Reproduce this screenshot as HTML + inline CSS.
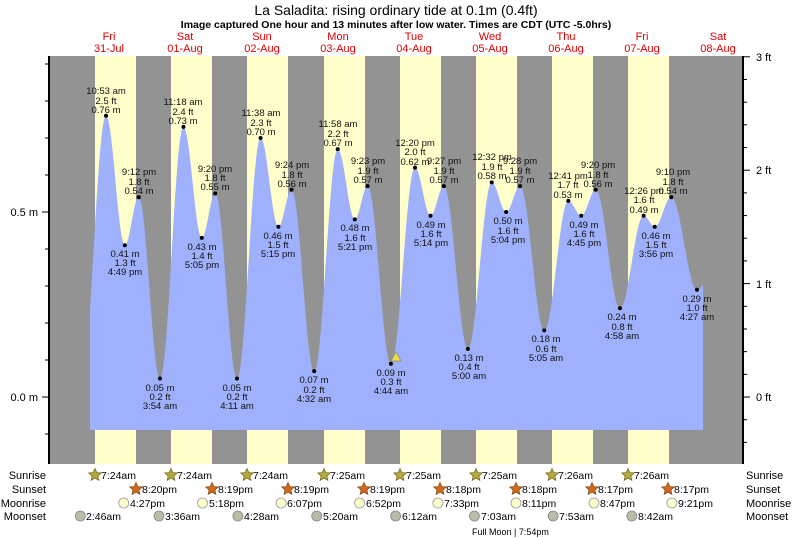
<!DOCTYPE html>
<html><head><meta charset="utf-8"><style>
body{margin:0;background:#fff;}
svg{display:block;font-family:"Liberation Sans",sans-serif;}
</style></head><body>
<svg id="s" width="793" height="538" viewBox="0 0 793 538" xmlns="http://www.w3.org/2000/svg">
<rect x="49" y="56" width="694" height="408" fill="#939393"/>
<g fill="#ffffcc">
<rect x="95" y="56" width="41" height="408"/><rect x="171" y="56" width="41" height="408"/>
<rect x="247" y="56" width="41" height="408"/><rect x="324" y="56" width="41" height="408"/>
<rect x="400" y="56" width="41" height="408"/><rect x="476" y="56" width="41" height="408"/>
<rect x="552" y="56" width="41" height="408"/><rect x="628" y="56" width="41" height="408"/>
</g>
<path id="tide" fill="#9fb0fc" d=""/>
<g id="dots" fill="#000"></g>
<polygon points="396,352 391,361 401,361" fill="#eedd44" stroke="#886" stroke-width="0.7"/>
<line x1="49" y1="56" x2="49" y2="464" stroke="#000" stroke-width="2"/>
<line x1="743" y1="56" x2="743" y2="464" stroke="#000" stroke-width="2"/>
<g id="ticks" stroke="#000" stroke-width="1"></g>
<g font-size="11" fill="#000">
<text x="38" y="216" text-anchor="end">0.5 m</text>
<text x="38" y="401" text-anchor="end">0.0 m</text>
<text x="756" y="61">3 ft</text><text x="756" y="174">2 ft</text>
<text x="756" y="288">1 ft</text><text x="756" y="401">0 ft</text>
</g>
<text x="396" y="15" font-size="14" text-anchor="middle">La Saladita: rising  ordinary tide at 0.1m (0.4ft)</text>
<text x="396" y="28" font-size="10.5" font-weight="bold" text-anchor="middle">Image captured One hour and 13 minutes after low water. Times are CDT (UTC -5.0hrs)</text>
<g font-size="11" fill="#e00000" text-anchor="middle">
<text x="109" y="40">Fri</text><text x="109" y="52">31-Jul</text>
<text x="185" y="40">Sat</text><text x="185" y="52">01-Aug</text>
<text x="262" y="40">Sun</text><text x="262" y="52">02-Aug</text>
<text x="338" y="40">Mon</text><text x="338" y="52">03-Aug</text>
<text x="414" y="40">Tue</text><text x="414" y="52">04-Aug</text>
<text x="490" y="40">Wed</text><text x="490" y="52">05-Aug</text>
<text x="566" y="40">Thu</text><text x="566" y="52">06-Aug</text>
<text x="642" y="40">Fri</text><text x="642" y="52">07-Aug</text>
<text x="718" y="40">Sat</text><text x="718" y="52">08-Aug</text>
</g>
<g font-size="9.5" fill="#111" text-anchor="middle">
<text x="106" y="94">10:53 am</text><text x="106" y="104">2.5 ft</text><text x="106" y="113">0.76 m</text>
<text x="139" y="175">9:12 pm</text><text x="139" y="185">1.8 ft</text><text x="139" y="194">0.54 m</text>
<text x="183" y="105">11:18 am</text><text x="183" y="115">2.4 ft</text><text x="183" y="124">0.73 m</text>
<text x="215" y="172">9:20 pm</text><text x="215" y="181">1.8 ft</text><text x="215" y="190">0.55 m</text>
<text x="261" y="116">11:38 am</text><text x="261" y="126">2.3 ft</text><text x="261" y="135">0.70 m</text>
<text x="292" y="168">9:24 pm</text><text x="292" y="178">1.8 ft</text><text x="292" y="187">0.56 m</text>
<text x="338" y="127">11:58 am</text><text x="338" y="137">2.2 ft</text><text x="338" y="146">0.67 m</text>
<text x="368" y="164">9:23 pm</text><text x="368" y="174">1.9 ft</text><text x="368" y="183">0.57 m</text>
<text x="415" y="146">12:20 pm</text><text x="415" y="155">2.0 ft</text><text x="415" y="165">0.62 m</text>
<text x="444" y="164">9:27 pm</text><text x="444" y="174">1.9 ft</text><text x="444" y="183">0.57 m</text>
<text x="492" y="160">12:32 pm</text><text x="492" y="170">1.9 ft</text><text x="492" y="179">0.58 m</text>
<text x="520" y="164">9:28 pm</text><text x="520" y="174">1.9 ft</text><text x="520" y="183">0.57 m</text>
<text x="568" y="179">12:41 pm</text><text x="568" y="188">1.7 ft</text><text x="568" y="198">0.53 m</text>
<text x="598" y="168">9:20 pm</text><text x="598" y="178">1.8 ft</text><text x="598" y="187">0.56 m</text>
<text x="644" y="194">12:26 pm</text><text x="644" y="203">1.6 ft</text><text x="644" y="213">0.49 m</text>
<text x="673" y="175">9:10 pm</text><text x="673" y="185">1.8 ft</text><text x="673" y="194">0.54 m</text>
<text x="125" y="257">0.41 m</text><text x="125" y="266">1.3 ft</text><text x="125" y="275">4:49 pm</text>
<text x="160" y="391">0.05 m</text><text x="160" y="400">0.2 ft</text><text x="160" y="409">3:54 am</text>
<text x="202" y="250">0.43 m</text><text x="202" y="259">1.4 ft</text><text x="202" y="268">5:05 pm</text>
<text x="237" y="391">0.05 m</text><text x="237" y="400">0.2 ft</text><text x="237" y="409">4:11 am</text>
<text x="278" y="239">0.46 m</text><text x="278" y="248">1.5 ft</text><text x="278" y="257">5:15 pm</text>
<text x="314" y="383">0.07 m</text><text x="314" y="393">0.2 ft</text><text x="314" y="402">4:32 am</text>
<text x="355" y="231">0.48 m</text><text x="355" y="241">1.6 ft</text><text x="355" y="250">5:21 pm</text>
<text x="391" y="376">0.09 m</text><text x="391" y="385">0.3 ft</text><text x="391" y="394">4:44 am</text>
<text x="431" y="228">0.49 m</text><text x="431" y="237">1.6 ft</text><text x="431" y="246">5:14 pm</text>
<text x="469" y="361">0.13 m</text><text x="469" y="370">0.4 ft</text><text x="469" y="379">5:00 am</text>
<text x="508" y="224">0.50 m</text><text x="508" y="234">1.6 ft</text><text x="508" y="243">5:04 pm</text>
<text x="546" y="342">0.18 m</text><text x="546" y="352">0.6 ft</text><text x="546" y="361">5:05 am</text>
<text x="584" y="228">0.49 m</text><text x="584" y="237">1.6 ft</text><text x="584" y="246">4:45 pm</text>
<text x="622" y="320">0.24 m</text><text x="622" y="330">0.8 ft</text><text x="622" y="339">4:58 am</text>
<text x="656" y="239">0.46 m</text><text x="656" y="248">1.5 ft</text><text x="656" y="257">3:56 pm</text>
<text x="697" y="302">0.29 m</text><text x="697" y="311">1.0 ft</text><text x="697" y="320">4:27 am</text>
</g>
<g font-size="11" fill="#000">
<text x="46" y="479" text-anchor="end">Sunrise</text>
<text x="46" y="493" text-anchor="end">Sunset</text>
<text x="46" y="507" text-anchor="end">Moonrise</text>
<text x="46" y="520" text-anchor="end">Moonset</text>
<text x="746" y="479">Sunrise</text>
<text x="746" y="493">Sunset</text>
<text x="746" y="507">Moonrise</text>
<text x="746" y="520">Moonset</text>
</g>
<g id="icons"></g>
<g font-size="10.5" fill="#000">
<text x="101" y="479">7:24am</text><text x="177" y="479">7:24am</text><text x="253" y="479">7:24am</text><text x="330" y="479">7:25am</text>
<text x="406" y="479">7:25am</text><text x="482" y="479">7:25am</text><text x="558" y="479">7:26am</text><text x="634" y="479">7:26am</text>
<text x="142" y="493">8:20pm</text><text x="218" y="493">8:19pm</text><text x="294" y="493">8:19pm</text><text x="370" y="493">8:19pm</text>
<text x="446" y="493">8:18pm</text><text x="522" y="493">8:18pm</text><text x="598" y="493">8:17pm</text><text x="674" y="493">8:17pm</text>
<text x="130" y="507">4:27pm</text><text x="209" y="507">5:18pm</text><text x="287" y="507">6:07pm</text><text x="366" y="507">6:52pm</text>
<text x="444" y="507">7:33pm</text><text x="522" y="507">8:11pm</text><text x="600" y="507">8:47pm</text><text x="678" y="507">9:21pm</text>
<text x="86" y="520">2:46am</text><text x="165" y="520">3:36am</text><text x="244" y="520">4:28am</text><text x="323" y="520">5:20am</text>
<text x="402" y="520">6:12am</text><text x="481" y="520">7:03am</text><text x="559" y="520">7:53am</text><text x="638" y="520">8:42am</text>
</g>
<text x="472" y="535" font-size="9">Full Moon | 7:54pm</text>
</svg>
<script>
var ev=[[0,10.883,.76],[0,16.817,.41],[0,21.2,.54],[1,3.9,.05],[1,11.3,.73],[1,17.083,.43],[1,21.333,.55],
[2,4.183,.05],[2,11.633,.70],[2,17.25,.46],[2,21.4,.56],[3,4.533,.07],[3,11.967,.67],[3,17.35,.48],[3,21.383,.57],
[4,4.733,.09],[4,12.333,.62],[4,17.233,.49],[4,21.45,.57],[5,5,.13],[5,12.533,.58],[5,17.067,.50],[5,21.467,.57],
[6,5.083,.18],[6,12.683,.53],[6,16.75,.49],[6,21.333,.56],[7,4.967,.24],[7,12.433,.49],[7,15.933,.46],[7,21.167,.54]];
var P=[[71.5+76.1*(3/24),0.03]];
ev.forEach(function(e){P.push([71.5+76.1*(e[0]+e[1]/24),e[2]]);});
P.push([697,0.29]);P.push([740,0.62]);
function Y(m){return 397-m*370;}
var d="M90,430";
for(var x=90;x<=703;x+=0.5){for(var i=0;i<P.length-1;i++){if(x>=P[i][0]&&x<=P[i+1][0]){var t=(x-P[i][0])/(P[i+1][0]-P[i][0]);var m=P[i][1]+(P[i+1][1]-P[i][1])*(1-Math.cos(Math.PI*t))/2;d+=" L"+x+","+Y(m).toFixed(1);break;}}}
d+=" L703,430 Z";document.getElementById("tide").setAttribute("d",d);
var ns="http://www.w3.org/2000/svg",g=document.getElementById("dots");
for(var i=1;i<P.length-1;i++){var c=document.createElementNS(ns,"circle");c.setAttribute("cx",P[i][0]);c.setAttribute("cy",Y(P[i][1]));c.setAttribute("r",2);g.appendChild(c);}
var tk=document.getElementById("ticks"),h="";
for(var m=-0.8;m<=0.9;m+=0.1){var y=Y(m);if(y<56||y>464)continue;var big=Math.abs(m)<.01||Math.abs(m-.5)<.01;h+='<line x1="'+(big?42:45)+'" x2="49" y1="'+y+'" y2="'+y+'"/>';}
for(var f=-1;f<=3.01;f+=0.2){var y=397-f*113.4;if(y<56||y>464)continue;var big=Math.abs(f-Math.round(f))<.01;h+='<line x1="743" x2="'+(big?750:747)+'" y1="'+y+'" y2="'+y+'"/>';}
tk.innerHTML=h;
function star(cx,cy,fill,stroke){var p=[];for(var k=0;k<10;k++){var r=k%2?3:6.5,a=-Math.PI/2+k*Math.PI/5;p.push((cx+r*Math.cos(a)).toFixed(1)+","+(cy+r*Math.sin(a)).toFixed(1));}return '<polygon points="'+p.join(" ")+'" fill="'+fill+'" stroke="'+stroke+'" stroke-width="0.8"/>';}
var ic="";
[95,171,247,324,400,476,552,628].forEach(function(x){ic+=star(x,475,"#b5aa3c","#7a6a20");});
[136,212,288,364,440,516,592,668].forEach(function(x){ic+=star(x,489,"#d2691e","#8a4a10");});
[123.7,202.5,281.1,359.6,437.9,516,594,671.9].forEach(function(x){ic+='<circle cx="'+x+'" cy="503" r="5" fill="#ffffcc" stroke="#999" stroke-width="0.8"/>';});
[80.3,159,237.9,316.7,395.6,474.4,553.1,631.8].forEach(function(x){ic+='<circle cx="'+x+'" cy="516" r="5" fill="#bbbba8" stroke="#888" stroke-width="0.8"/>';});
document.getElementById("icons").innerHTML=ic;
</script>
</body></html>
